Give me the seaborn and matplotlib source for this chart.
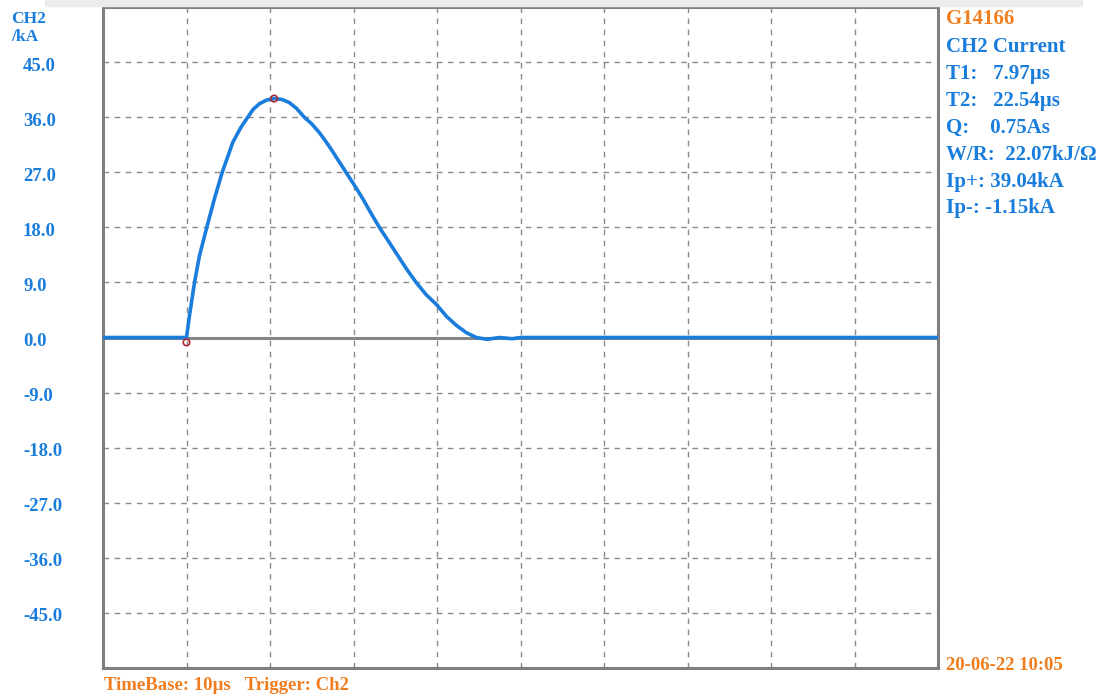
import numpy as np
import pandas as pd
import matplotlib
matplotlib.use("Agg")
import matplotlib.pyplot as plt
import seaborn as sns
from matplotlib.patches import Rectangle
from matplotlib.transforms import ScaledTranslation

# ---- data (time in µs relative to trigger, current in kA) ----
time_us = [-10, 0, 0.36, 0.96, 1.56, 2.43, 3.35, 4.28, 5.55, 6.5, 7.34, 8.0, 8.74,
           9.6, 10.5, 11.4, 12.3, 13.2, 14.1, 15.0, 15.9, 16.6, 17.4, 18.2, 19.1,
           20.1, 21.1, 22.1, 23.1, 24.2, 25.3, 26.4, 27.5, 28.7, 30.0, 31.1,
           32.3, 33.5, 34.7, 36.0, 37.5, 39.0, 40.0, 90]
current_ka = [0, 0, 3.6, 9.0, 13.4, 18.0, 22.7, 27.0, 31.9, 34.3, 36.0, 37.3, 38.2,
              38.8, 39.04, 38.9, 38.4, 37.4, 36.0, 34.9, 33.5, 32.2, 30.6, 28.9, 27.0,
              24.9, 22.7, 20.3, 18.0, 15.7, 13.4, 11.1, 9.0, 7.0, 5.3, 3.5,
              2.0, 0.8, 0.0, -0.3, 0.0, -0.2, 0.0, 0.0]
marker_t = [0.0, 10.5]
marker_i = [-0.8, 39.04]
y_ticks = [45, 36, 27, 18, 9, 0, -9, -18, -27, -36, -45]
y_tick_labels = ["45.0", "36.0", "27.0", "18.0", "9.0", "0.0", "-9.0",
                 "-18.0", "-27.0", "-36.0", "-45.0"]
x_grid = [0, 10, 20, 30, 40, 50, 60, 70, 80]
info_title = "G14166"
info_lines = ["CH2 Current", "T1:   7.97µs", "T2:   22.54µs", "Q:    0.75As",
              "W/R:  22.07kJ/Ω", "Ip+: 39.04kA", "Ip-: -1.15kA"]
bottom_left = "TimeBase: 10µs   Trigger: Ch2"
bottom_right = "20-06-22 10:05"

BLUE = "#1a7ddb"
ORANGE = "#f07d1e"
GRID = "#8a8a8a"

sns.set_style("white")
plt.rcParams["font.family"] = ["Liberation Serif", "DejaVu Serif"]
plt.rcParams["font.weight"] = "bold"

fig = plt.figure(figsize=(11.2, 6.98), dpi=100)
ax = fig.add_axes([103 / 1120, 1 - 668 / 698, (938 - 103) / 1120, (668 - 7) / 698])

# grey screenshot band at top
fig.patches.append(Rectangle((45 / 1120, 1 - 6 / 698), (1082 - 45) / 1120, 6 / 698,
                             transform=fig.transFigure, color="#ececec", zorder=0))

ax.set_xlim(-10, 90)
ax.set_ylim(-54, 54)

for xv in x_grid:
    ax.axvline(xv, color=GRID, lw=1.0, ls=(0, (4, 4)), zorder=1)
for yv in y_ticks:
    if yv != 0:
        ax.axhline(yv, color=GRID, lw=1.0, ls=(0, (4, 4)), zorder=1)
ax.axhline(0, color="#858585", lw=2.2, zorder=2)

df = pd.DataFrame({"t": time_us, "i": current_ka})
sns.lineplot(data=df, x="t", y="i", ax=ax, color=BLUE, lw=2.6, zorder=3,
             sort=False, estimator=None)
ax.scatter(marker_t, marker_i, s=22, facecolors="none", edgecolors="#b22a3a",
           linewidths=1.2, zorder=4)

ax.set_xlabel("")
ax.set_ylabel("")
ax.set_xticks(x_grid)
ax.set_xticklabels([])
ax.set_yticks(y_ticks)
ax.set_yticklabels(y_tick_labels)
ax.tick_params(axis="x", length=0)
ax.tick_params(axis="y", length=0, pad=80 * 72 / 100, labelcolor=BLUE, labelsize=13.5)
shift = ScaledTranslation(0, -4 / 100, fig.dpi_scale_trans)
for lab in ax.get_yticklabels():
    lab.set_horizontalalignment("left")
    lab.set_fontweight("bold")
    lab.set_verticalalignment("center")
    lab.set_transform(lab.get_transform() + shift)

for sp in ax.spines.values():
    sp.set_visible(True)
    sp.set_color("#7f7f7f")
    sp.set_linewidth(2.2)

# axis caption top-left
fig.text(11 / 1120, 1 - 19 / 698, "CH2", color=BLUE, fontsize=12.5, fontweight="bold",
         ha="left", va="center")
fig.text(11 / 1120, 1 - 37 / 698, "/kA", color=BLUE, fontsize=12.5, fontweight="bold",
         ha="left", va="center")

# info block right
fig.text(946 / 1120, 1 - 19 / 698, info_title, color=ORANGE, fontsize=15,
         fontweight="bold", ha="left", va="center")
for k, line in enumerate(info_lines):
    fig.text(946 / 1120, 1 - (47 + 26.9 * k) / 698, line, color=BLUE, fontsize=15,
             fontweight="bold", ha="left", va="center")

fig.text(104 / 1120, 1 - 686 / 698, bottom_left, color=ORANGE, fontsize=13.5,
         fontweight="bold", ha="left", va="center")
fig.text(946 / 1120, 1 - 665 / 698, bottom_right, color=ORANGE, fontsize=13.5,
         fontweight="bold", ha="left", va="center")

fig.savefig("out.png", dpi=100, facecolor="white")
